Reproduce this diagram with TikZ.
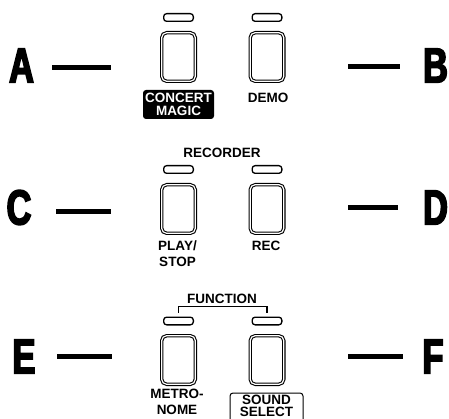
\documentclass[tikz,border=0pt]{standalone}
\usepackage{fontspec}
\setmainfont{Liberation Sans}
\newfontfamily\keyfont[FakeStretch=0.70,BoldFeatures={FakeBold=3.5}]{Liberation Sans}
\begin{document}
\begin{tikzpicture}[x=1pt,y=-1pt,
  btn/.style={draw, line width=1.1pt, double=white, double distance=1.2pt, rounded corners=5pt, minimum width=33.6pt, minimum height=48.6pt, inner sep=0pt},
  led/.style={draw, line width=1.3pt, rounded corners=3pt, minimum width=29.7pt, minimum height=7.7pt, inner sep=0pt},
  keyletter/.style={font=\keyfont\bfseries\fontsize{49}{49}\selectfont, inner sep=0pt},
  keyline/.style={line width=5pt},
  caption/.style={font=\bfseries\fontsize{13.5}{16}\selectfont, align=center, inner sep=0pt}]
\useasboundingbox (0,0) rectangle (449,419);
% row 1
\node[led] (ledConcert) at (178.5,17.5) {};
\node[led] (ledDemo) at (267,17.5) {};
\node[btn] (btnConcert) at (178.5,57) {};
\node[btn] (btnDemo) at (267,57) {};
\node[caption, fill=black, text=white, rounded corners=3pt, minimum width=71pt, minimum height=29pt, font=\bfseries\fontsize{13.5}{13.5}\selectfont] (capConcert) at (178.5,104.5) {CONCERT\\MAGIC};
\node[caption] (capDemo) at (268,98) {DEMO};
\node[keyletter] (A) at (21.5,65.5) {A};
\node[keyletter] (B) at (435.5,65.5) {B};
\coordinate (a1) at (52,68); \coordinate (a2) at (111,68);
\coordinate (b1) at (348,67); \coordinate (b2) at (400,67);
\draw[keyline] (a1) -- (a2);
\draw[keyline] (b1) -- (b2);
% row 2
\node[caption] (recorder) at (222,153) {RECORDER};
\node[led] (ledPlay) at (178.5,169.5) {};
\node[led] (ledRec) at (267,169.5) {};
\node[btn] (btnPlay) at (178.5,209) {};
\node[btn] (btnRec) at (267,209) {};
\node[caption] (capPlay) at (177.5,254) {PLAY/\\STOP};
\node[caption] (capRec) at (266,246) {REC};
\node[keyletter] (C) at (19,207.5) {C};
\node[keyletter] (D) at (435.5,207.5) {D};
\coordinate (c1) at (56,212); \coordinate (c2) at (111,212);
\coordinate (d1) at (348,208); \coordinate (d2) at (398,208);
\draw[keyline] (c1) -- (c2);
\draw[keyline] (d1) -- (d2);
% row 3
\node[caption] (function) at (222,299) {FUNCTION};
\node[led] (ledMetro) at (178.5,321) {};
\node[led] (ledSound) at (267,321) {};
\draw[line width=1.1pt] ([yshift=4pt]ledMetro.north) -- ++(0,-6) -| ([yshift=4pt]ledSound.north);
\node[btn] (btnMetro) at (178.5,360) {};
\node[btn] (btnSound) at (267,360) {};
\node[caption] (capMetro) at (177,402) {METRO-\\NOME};
\draw[line width=1pt, rounded corners=3pt] (230,426) |- (303,393) -- (303,426);
\node[caption, font=\bfseries\fontsize{13.5}{12}\selectfont] (capSound) at (266.5,406) {SOUND\\SELECT};
\node[keyletter] (E) at (24,356.5) {E};
\node[keyletter] (F) at (433,356.5) {F};
\coordinate (e1) at (57,356); \coordinate (e2) at (112,356);
\coordinate (f1) at (348,356); \coordinate (f2) at (403,356);
\draw[keyline] (e1) -- (e2);
\draw[keyline] (f1) -- (f2);
\end{tikzpicture}
\end{document}
